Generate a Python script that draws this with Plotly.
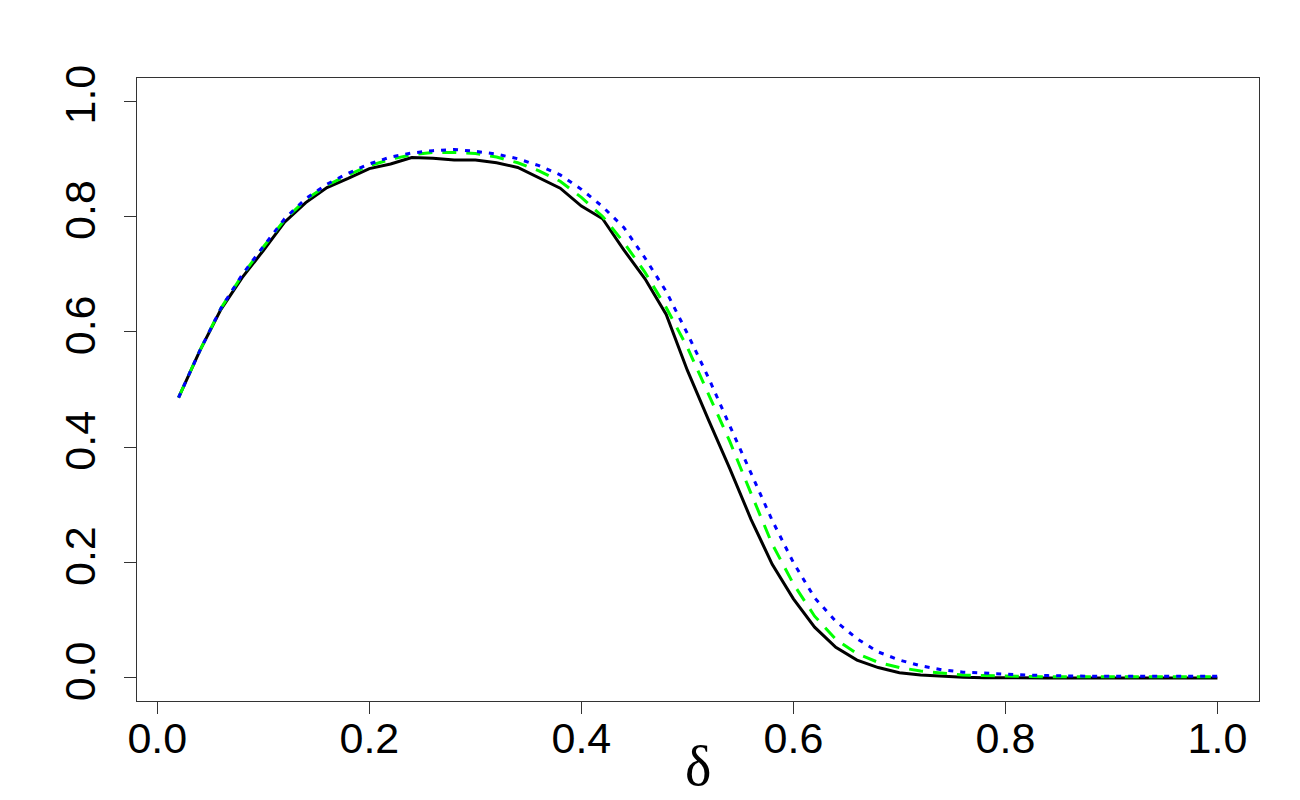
import plotly.graph_objects as go

delta = [round(0.02 * i, 2) for i in range(1, 51)]

black_vals = [0.486, 0.567, 0.639, 0.694, 0.741, 0.790, 0.824, 0.850, 0.866, 0.883,
              0.891, 0.902, 0.901, 0.898, 0.898, 0.893, 0.885, 0.867, 0.849, 0.818,
              0.796, 0.742, 0.692, 0.630, 0.533, 0.447, 0.363, 0.275, 0.197, 0.137,
              0.088, 0.053, 0.031, 0.018, 0.009, 0.005, 0.003, 0.001, 0.0005, 0.0,
              0.0, 0.0, 0.0, 0.0, 0.0, 0.0, 0.0, 0.0, 0.0, 0.0]

green_vals = [0.486, 0.567, 0.641, 0.698, 0.747, 0.794, 0.829, 0.854, 0.872, 0.888,
              0.899, 0.907, 0.911, 0.911, 0.909, 0.903, 0.893, 0.879, 0.861, 0.833,
              0.800, 0.755, 0.703, 0.642, 0.573, 0.492, 0.410, 0.320, 0.232, 0.163,
              0.107, 0.067, 0.042, 0.027, 0.018, 0.012, 0.008, 0.005, 0.004, 0.003,
              0.002, 0.002, 0.002, 0.002, 0.002, 0.002, 0.002, 0.002, 0.002, 0.002]

blue_vals = [0.486, 0.567, 0.641, 0.699, 0.748, 0.796, 0.831, 0.856, 0.875, 0.891,
             0.903, 0.910, 0.914, 0.916, 0.913, 0.908, 0.900, 0.888, 0.872, 0.847,
             0.817, 0.781, 0.728, 0.670, 0.597, 0.520, 0.437, 0.355, 0.273, 0.200,
             0.139, 0.098, 0.068, 0.045, 0.031, 0.021, 0.014, 0.010, 0.008, 0.006,
             0.005, 0.004, 0.003, 0.003, 0.003, 0.003, 0.003, 0.003, 0.003, 0.003]

tick_vals = [0.0, 0.2, 0.4, 0.6, 0.8, 1.0]
tick_text = ["0.0", "0.2", "0.4", "0.6", "0.8", "1.0"]
x_title = "δ"

fig = go.Figure()
fig.add_trace(go.Scatter(x=delta, y=black_vals, mode="lines",
                         line=dict(color="#000000", width=3)))
fig.add_trace(go.Scatter(x=delta, y=green_vals, mode="lines",
                         line=dict(color="#00FF00", width=3, dash="14px,10px")))
fig.add_trace(go.Scatter(x=delta, y=blue_vals, mode="lines",
                         line=dict(color="#0000FF", width=3, dash="5px,7px")))

axis_font = dict(family="Liberation Sans, Arial, sans-serif", size=43, color="#000000")

fig.update_layout(
    width=1300, height=800,
    paper_bgcolor="white", plot_bgcolor="white",
    showlegend=False,
    margin=dict(l=129, r=49, t=70, b=107),
    xaxis=dict(range=[-0.0192, 1.0392], tickvals=tick_vals, ticktext=tick_text,
               showgrid=False, zeroline=False, showline=True, mirror=True,
               linecolor="#333333", linewidth=1, ticks="outside", ticklen=12,
               tickcolor="#333333", tickfont=axis_font, automargin=False,
               ticklabelstandoff=-13),
    yaxis=dict(range=[-0.04, 1.04], tickvals=tick_vals, ticktext=tick_text,
               showgrid=False, zeroline=False, showline=True, mirror=True,
               linecolor="#333333", linewidth=1, ticks="outside", ticklen=12,
               tickcolor="#333333", tickfont=axis_font, tickangle=-90,
               automargin=False, ticklabelstandoff=12),
    annotations=[dict(text=x_title, xref="paper", yref="paper", x=0.5, y=-0.104,
                      xanchor="center", yanchor="middle", showarrow=False,
                      font=dict(family="Liberation Serif, DejaVu Serif, serif",
                                size=56, color="#000000"))],
)

fig.write_html("out.html")
